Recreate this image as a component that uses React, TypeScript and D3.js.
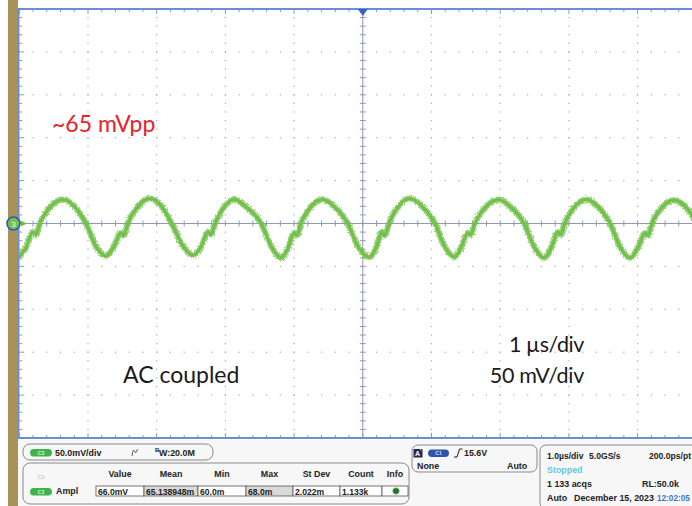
import React from 'react';
import * as d3 from 'd3';

// waveform key points (time in µs from centre, level in mV)
const troughTimes = [-5.02, -3.74, -2.47, -1.19, 0.1, 1.34, 2.64, 3.89, 5.16];
const troughValues = [-40, -38, -37, -40, -39, -39, -40, -40, -39];
const riseLowTimes = [-4.91, -3.63, -2.36, -1.09, 0.19, 1.43, 2.74, 4.0];
const riseLowValues = [-29, -28, -28, -29, -29, -28, -29, -29];
const notchTopTimes = [-4.8, -3.52, -2.25, -1.0, 0.28, 1.53, 2.84, 4.11];
const notchTopValues = [-10, -11, -10, -11, -10, -11, -10, -11];
const notchLowTimes = [-4.76, -3.48, -2.21, -0.96, 0.32, 1.57, 2.88, 4.15];
const notchLowValues = [-13, -14, -13, -14, -14, -13, -13, -14];
const riseTimes = [-4.7, -3.42, -2.15, -0.9, 0.38, 1.63, 2.94, 4.21];
const riseHighTimes = [-4.53, -3.26, -2.01, -0.74, 0.53, 1.8, 3.1, 4.37];
const riseHighValues = [21, 21, 20, 21, 21, 20, 21, 20];
const peakTimes = [-4.36, -3.1, -1.87, -0.58, 0.69, 1.98, 3.26, 4.53];
const peakValues = [28, 29, 28, 28, 29, 28, 28, 27];
const fallHighTimes = [-4.2, -2.94, -1.71, -0.42, 0.85, 2.14, 3.42, 4.69];
const fallHighValues = [20, 21, 20, 20, 21, 20, 20, 20];
const fallTimes = [-4.03, -2.78, -1.48, -0.22, 1.05, 2.35, 3.6, 4.86];
const fallLowTimes = [-3.88, -2.62, -1.33, -0.06, 1.2, 2.5, 3.75, 5.01];
const fallLowValues = [-27, -26, -27, -28, -28, -28, -28, -28];

// readouts
const measHeaders = ['Value', 'Mean', 'Min', 'Max', 'St Dev', 'Count', 'Info'];
const measValues = ['66.0mV', '65.138948m', '60.0m', '68.0m', '2.022m', '1.133k', ''];
const channelScale = '50.0mV/div';
const bandwidth = 'W:20.0M';
const triggerLevel = '15.6V';
const timebase = ['1.0µs/div', '5.0GS/s', '200.0ps/pt'];
const acqInfo = ['Stopped', '1 133 acqs', 'RL:50.0k'];
const dateInfo = ['Auto', 'December 15, 2023', '12:02:05'];

const W = 692, H = 506;
const x = d3.scaleLinear().domain([-5, 5]).range([19.3, 706.3]);
const y = d3.scaleLinear().domain([-250, 250]).range([438, 9]);

const gridCol = '#a8a8a8';
const axisCol = '#8e9ab4';
const frameCol = '#6a8fcc';
const traceCol = '#72c04a';
const uiFont = '"Liberation Sans", Arial, sans-serif';
const noteFont = 'Lato, "Open Sans", sans-serif';

const pair = (ts: number[], vs: number[] | number) =>
  ts.map((t, i) => [t, typeof vs === 'number' ? vs : vs[i]] as [number, number]);

function App() {
  const pts: [number, number][] = [
    ...pair(troughTimes, troughValues),
    ...pair(riseLowTimes, riseLowValues),
    ...pair(notchTopTimes, notchTopValues),
    ...pair(notchLowTimes, notchLowValues),
    ...pair(riseTimes, 0),
    ...pair(riseHighTimes, riseHighValues),
    ...pair(peakTimes, peakValues),
    ...pair(fallHighTimes, fallHighValues),
    ...pair(fallTimes, 0),
    ...pair(fallLowTimes, fallLowValues),
  ].sort((a, b) => a[0] - b[0]);

  const line = d3.line<[number, number]>()
    .x((d) => x(d[0]))
    .y((d) => y(d[1]))
    .curve(d3.curveMonotoneX);
  const tracePath = line(pts) || '';

  const majorX = d3.range(-4, 5).filter((v) => v !== 0);
  const majorY = d3.range(-200, 201, 50).filter((v) => v !== 0);
  const minorX = d3.range(-25, 26).map((i) => i / 5);
  const minorY = d3.range(-250, 251, 10);

  const y0 = y(0), x0 = x(0);
  const top = y(250), bottom = y(-250), left = x(-5);

  // measurement cell edges
  const cellEdges = [96, 144, 198, 246, 293, 340, 382, 408];

  return (
    <svg width={W} height={H} style={{ position: 'absolute', left: 0, top: 0 }}>
      <defs>
        <clipPath id="plot">
          <rect x={left} y={top} width={W - left} height={bottom - top} />
        </clipPath>
        <filter id="fuzz" x="-5%" y="-20%" width="110%" height="140%">
          <feTurbulence type="fractalNoise" baseFrequency="0.9" numOctaves={2} seed={4} result="n" />
          <feDisplacementMap in="SourceGraphic" in2="n" scale={4.5} xChannelSelector="R" yChannelSelector="G" />
        </filter>
      </defs>
      <rect width={W} height={H} fill="#ffffff" />
      {/* bottom readout panel */}
      <rect x={18} y={bottom + 2} width={W - 18} height={H - bottom} fill="#f7f7f7" />
      <rect x={8} y={0} width={10} height={H} fill="#a8925a" />

      {/* dotted graticule */}
      <g fill={gridCol}>
        {majorX.map((v) => minorY.map((m) => (
          <rect key={`vx${v}${m}`} x={x(v) - 0.6} y={y(m) - 0.6} width={1.2} height={1.2} />
        )))}
        {majorY.map((m) => minorX.map((v) => (
          <rect key={`hy${m}${v}`} x={x(v) - 0.6} y={y(m) - 0.6} width={1.2} height={1.2} />
        )))}
      </g>

      {/* centre cross with ticks */}
      <g stroke={axisCol} strokeWidth={1}>
        <line x1={left} x2={W} y1={y0} y2={y0} />
        <line x1={x0} x2={x0} y1={top} y2={bottom} />
        {minorX.map((v) => (
          <line key={`cx${v}`} x1={x(v)} x2={x(v)} y1={y0 - 3} y2={y0 + 3} />
        ))}
        {minorY.map((m) => (
          <line key={`cy${m}`} x1={x0 - 3} x2={x0 + 3} y1={y(m)} y2={y(m)} />
        ))}
        {minorX.map((v, i) => (
          <line key={`tx${v}`} x1={x(v)} x2={x(v)} y1={top} y2={top + (i % 5 === 0 ? 5 : 3)} />
        ))}
        {minorX.map((v, i) => (
          <line key={`bx${v}`} x1={x(v)} x2={x(v)} y1={bottom} y2={bottom - (i % 5 === 0 ? 5 : 3)} />
        ))}
        {minorY.map((m, i) => (
          <line key={`ly${m}`} x1={left} x2={left + (i % 5 === 0 ? 5 : 3)} y1={y(m)} y2={y(m)} />
        ))}
      </g>

      {/* trace: fuzzy noise band plus solid core */}
      <g clipPath="url(#plot)">
        <path d={tracePath} fill="none" stroke={traceCol} strokeWidth={6} strokeOpacity={0.75}
          strokeLinejoin="round" filter="url(#fuzz)" />
        <path d={tracePath} fill="none" stroke={traceCol} strokeWidth={3} strokeLinejoin="round" />
      </g>

      {/* frame */}
      <g stroke={frameCol} strokeWidth={2}>
        <line x1={17} x2={W} y1={top} y2={top} />
        <line x1={18.5} x2={18.5} y1={top} y2={bottom + 1} />
        <line x1={17} x2={W} y1={bottom} y2={bottom} />
      </g>
      <path d={`M${x0 - 5},${top} L${x0 + 5},${top} L${x0},${top + 7} Z`} fill="#2f66c4" />

      {/* channel ground marker */}
      <circle cx={13.5} cy={y0} r={6.5} fill={traceCol} stroke="#2a5cb8" strokeWidth={1.6} />
      <text x={13.5} y={y0 + 3} fontSize={8} fill="#ffffff" textAnchor="middle" fontFamily={uiFont}>3</text>
      <path d={`M21,${y0 - 3} L27,${y0} L21,${y0 + 3} Z`} fill={traceCol} />

      {/* annotations */}
      <text x={52} y={132} fontSize={23} fill="#e8212b" fontFamily={noteFont}>~65 mVpp</text>
      <text x={123} y={383} fontSize={23} fill="#1a1a1a" fontFamily={noteFont}>AC coupled</text>
      <text x={584} y={352} fontSize={21.5} fill="#1a1a1a" fontFamily={noteFont} textAnchor="end"
        letterSpacing={-0.4}>1 µs/div</text>
      <text x={584} y={383} fontSize={21.5} fill="#1a1a1a" fontFamily={noteFont} textAnchor="end"
        letterSpacing={-0.3}>50 mV/div</text>

      {/* readouts */}
      <g fontFamily={uiFont} fontSize={8.9} fontWeight="bold" fill="#222">
        <rect x={23} y={444} width={190} height={16} rx={7} fill="none" stroke="#8a8a8a" />
        <rect x={30} y={449} width={22} height={7.5} rx={3.7} fill="#3fb24a" />
        <text x={41} y={455} fontSize={5} fill="#d8f5d8" textAnchor="middle">C3</text>
        <text x={55} y={456}>{channelScale}</text>
        <path d="M132,456 Q133,448 134.5,451 Q136,455 137.5,449" fill="none" stroke="#333" strokeWidth={0.8} />
        <text x={155} y={452} fontSize={6}>B</text>
        <text x={159} y={456}>{bandwidth}</text>

        <rect x={23} y={463} width={386} height={41} rx={7} fill="none" stroke="#8a8a8a" />
        <text x={41} y={479} fontSize={5} fill="#c8c8c8" textAnchor="middle">C3</text>
        <rect x={30} y={488} width={22} height={7.5} rx={3.7} fill="#3fb24a" />
        <text x={41} y={494} fontSize={5} fill="#d8f5d8" textAnchor="middle">C3</text>
        <text x={56} y={494}>Ampl</text>
        {measHeaders.map((h, i) => (
          <text key={h} x={(cellEdges[i] + cellEdges[i + 1]) / 2} y={477} textAnchor="middle">{h}</text>
        ))}
        {measValues.map((v, i) => (
          <g key={`m${i}`}>
            <rect x={cellEdges[i]} y={486} width={cellEdges[i + 1] - cellEdges[i]} height={10}
              fill={i === 1 || i === 3 ? '#d9d9d9' : '#ffffff'} stroke="#555" strokeWidth={0.8} />
            <text x={cellEdges[i] + 2} y={494.5} fontSize={8.6}>{v}</text>
          </g>
        ))}
        <circle cx={396} cy={491} r={3.3} fill="#2d6a36" stroke="#8fcf7a" strokeWidth={0.8} />

        <rect x={412} y={445} width={125} height={27} rx={6} fill="none" stroke="#8a8a8a" />
        <rect x={413.5} y={449} width={9} height={8.5} fill="#1c2b52" />
        <text x={415} y={456} fontSize={7} fill="#ffffff">A</text>
        <text x={420} y={453} fontSize={5} fill="#ffffff">'</text>
        <rect x={428} y={449.5} width={21} height={7.5} rx={3.7} fill="#2d56a8" />
        <text x={438.5} y={455} fontSize={5} fill="#d0dcff" textAnchor="middle">C1</text>
        <path d="M454,457 L457,457 L459.5,449 L462.5,449" fill="none" stroke="#222" strokeWidth={1} />
        <text x={464} y={456}>{triggerLevel}</text>
        <text x={417} y={469}>None</text>
        <text x={507} y={469}>Auto</text>

        <rect x={540} y={445} width={170} height={64} rx={6} fill="none" stroke="#8a8a8a" />
        <text x={547} y={459} fontSize={8.6}>{timebase[0]}</text>
        <text x={589} y={459} fontSize={8.6}>{timebase[1]}</text>
        <text x={649} y={459} fontSize={8.6}>{timebase[2]}</text>
        <text x={547} y={473} fill="#62c8e2">{acqInfo[0]}</text>
        <text x={547} y={487}>{acqInfo[1]}</text>
        <text x={642} y={487}>{acqInfo[2]}</text>
        <text x={547} y={501}>{dateInfo[0]}</text>
        <text x={574} y={501}>{dateInfo[1]}</text>
        <text x={657} y={501} fontSize={8.2} fill="#3a78d0">{dateInfo[2]}</text>
      </g>
    </svg>
  );
}

export default App;
